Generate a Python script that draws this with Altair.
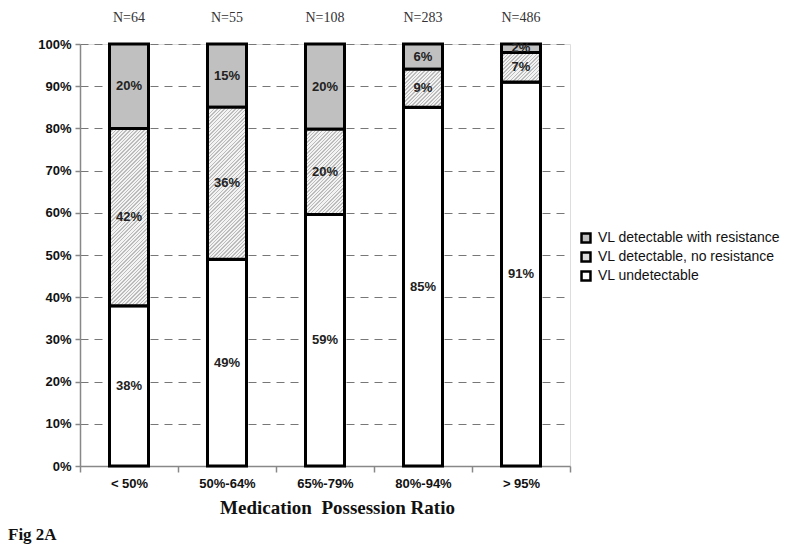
import altair as alt
import pandas as pd

categories = ["< 50%", "50%-64%", "65%-79%", "80%-94%", "> 95%"]
n_labels = ["N=64", "N=55", "N=108", "N=283", "N=486"]
undetectable = [38, 49, 59, 85, 91]
no_resistance = [42, 36, 20, 9, 7]
with_resistance = [20, 15, 20, 6, 2]
series = ["VL detectable with resistance", "VL detectable, no resistance", "VL undetectable"]
stack_order = {"VL undetectable": 0, "VL detectable, no resistance": 1, "VL detectable with resistance": 2}

PLOT_W, PLOT_H, BAR_W = 490, 422, 39

rows = []
for i, c in enumerate(categories):
    vals = [(series[2], undetectable[i]), (series[1], no_resistance[i]), (series[0], with_resistance[i])]
    total = sum(v for _, v in vals)
    cum = 0
    for s, v in vals:
        lo = cum / total
        mid = (cum + v / 2) / total
        cum += v
        hi = cum / total
        rows.append({"cat": c, "series": s, "value": v, "ord": stack_order[s],
                     "lo": lo, "hi": hi, "mid": mid, "label": f"{v}%"})
df = pd.DataFrame(rows)
ndf = pd.DataFrame({"cat": categories, "n": n_labels})

FONT = "Liberation Sans"
SERIF = "Liberation Serif"


def hatch(w, h, period=3.6, line="#bcbcbc", bg="#f3f3f3", frac=0.42):
    # diagonal "/" stripes at 45 degrees, built as a linear gradient in bbox units
    a = (w + h) / (w * w + h * h)
    n = max(1, int(round((w + h) / period)))
    stops = []
    for k in range(n):
        s0 = k / n
        s1 = (k + frac) / n
        s2 = (k + 1) / n
        stops += [{"offset": s0, "color": line}, {"offset": s1, "color": line},
                  {"offset": s1, "color": bg}, {"offset": s2, "color": bg}]
    return {"gradient": "linear", "x1": 0, "y1": 0, "x2": a * w, "y2": a * h, "stops": stops}


xenc = alt.X("cat:N", sort=categories,
             scale=alt.Scale(paddingInner=0, paddingOuter=0),
             axis=alt.Axis(title="Medication\u00a0 Possession Ratio", labelAngle=0,
                           labelFont=FONT, labelFontWeight="bold", labelFontSize=13,
                           labelColor="#111", tickBand="extent", tickSize=6, tickColor="#888",
                           tickWidth=1.5, domainColor="#888", domainWidth=1.5, labelPadding=5,
                           titleFont=SERIF, titleFontWeight="bold", titleFontSize=19,
                           titleColor="#111", titlePadding=8, titleX=257, titleAlign="center"))

color = alt.Color("series:N", sort=series,
                  scale=alt.Scale(domain=series, range=["#c0c0c0", "#dcdcdc", "#ffffff"]),
                  legend=alt.Legend(title=None, orient="none", legendX=499, legendY=187,
                                    symbolType="square", symbolSize=80, symbolStrokeColor="#000",
                                    symbolStrokeWidth=2.5, labelFont=FONT, labelFontSize=14,
                                    labelColor="#111", rowPadding=-1, symbolOpacity=1,
                                    labelOffset=5, labelLimit=400))

bars = alt.Chart(df).mark_bar(size=BAR_W, stroke="#000", strokeWidth=3, opacity=1).encode(
    x=xenc,
    y=alt.Y("value:Q", stack="normalize", scale=alt.Scale(domain=[0, 1]),
            axis=alt.Axis(title=None, format=".0%", values=[i / 10 for i in range(11)],
                          labelFont=FONT, labelFontWeight="bold", labelFontSize=13,
                          labelColor="#111", grid=True, gridDash=[8, 6], gridColor="#777",
                          gridWidth=1, tickColor="#888", tickSize=5, tickWidth=1.5,
                          domainColor="#888", domainWidth=1.5, labelPadding=4)),
    color=color,
    order=alt.Order("ord:Q"),
)

hatch_layers = []
for r in df[df["series"] == series[1]].itertuples():
    h = (r.hi - r.lo) * PLOT_H
    hatch_layers.append(
        alt.Chart(df[(df["series"] == series[1]) & (df["cat"] == r.cat)])
        .mark_bar(size=BAR_W, stroke="#000", strokeWidth=3, fill=hatch(BAR_W, h))
        .encode(x=alt.X("cat:N", sort=categories), y=alt.Y("lo:Q"), y2="hi:Q")
    )

texts = alt.Chart(df).mark_text(font=FONT, fontWeight="bold", fontSize=13, color="#222").encode(
    x=alt.X("cat:N", sort=categories),
    y=alt.Y("mid:Q"),
    text="label:N",
)

ntext = alt.Chart(ndf).mark_text(font=SERIF, fontSize=14, color="#333").encode(
    x=alt.X("cat:N", sort=categories),
    y=alt.value(-26),
    text="n:N",
)

fig = alt.Chart(pd.DataFrame({"t": ["Fig 2A"]})).mark_text(
    font=SERIF, fontWeight="bold", fontSize=17, color="#111", align="left").encode(
    x=alt.value(-72), y=alt.value(491), text="t:N")

chart = alt.layer(bars, *hatch_layers, texts, ntext, fig).properties(
    width=PLOT_W, height=PLOT_H,
    autosize=alt.AutoSizeParams(type="none"),
    padding={"left": 72, "top": 36, "right": 222, "bottom": 79},
).configure_view(stroke=None).configure(background="#ffffff")

chart.save("out.html", embed_options={"renderer": "svg", "actions": False})
